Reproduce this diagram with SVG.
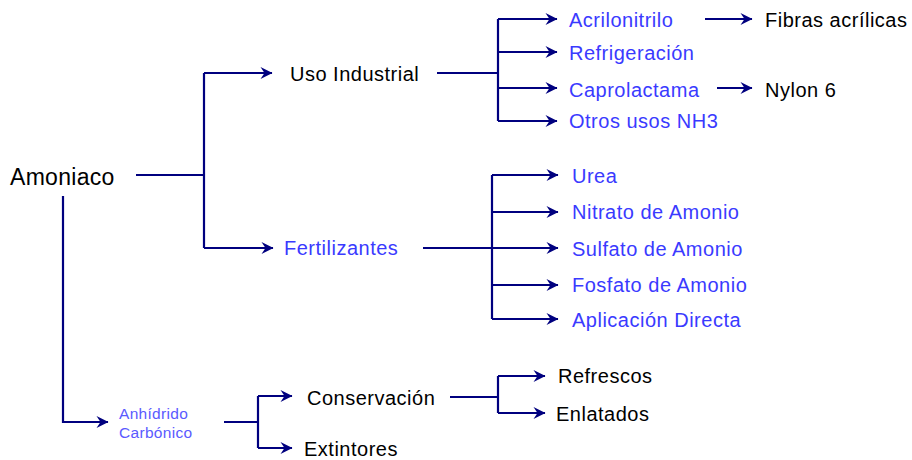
<svg xmlns="http://www.w3.org/2000/svg" width="912" height="460" viewBox="0 0 912 460">
<style>
.t{font-family:"Liberation Sans",Arial,sans-serif;font-size:20px;letter-spacing:0.5px}
.k{fill:#000}
.b{fill:#3a3aff}
.s{font-size:15.5px;letter-spacing:0.3px;fill:#5a5aff}
.big{font-size:23px;letter-spacing:0.3px}
.c{fill:none;stroke:#00007f;stroke-width:2.2}
.a{marker-end:url(#ah)}
</style>
<defs>
<marker id="ah" markerUnits="userSpaceOnUse" markerWidth="14" markerHeight="14" refX="12" refY="7" orient="auto" viewBox="0 0 14 14">
<path d="M0.5,1 L12.5,7 L0.5,13 L4.5,7 z" fill="#00007f"/>
</marker>
</defs>
<rect width="912" height="460" fill="#fff"/>
<g id="connectors">
<path class="c" d="M136,175 H204 M204,73 V248"/>
<path class="c a" d="M204,73 H272"/>
<path class="c a" d="M204,248 H273"/>
<path class="c a" d="M63,196 V422 H108"/>
<path class="c" d="M437,73 H498 M498,19 V121"/>
<path class="c a" d="M498,19 H557"/>
<path class="c a" d="M498,52 H557"/>
<path class="c a" d="M498,88 H557"/>
<path class="c a" d="M498,121 H557"/>
<path class="c a" d="M705,19 H752"/>
<path class="c a" d="M717,88 H752"/>
<path class="c" d="M423,248 H492 M492,175 V319"/>
<path class="c a" d="M492,175 H558"/>
<path class="c a" d="M492,212 H558"/>
<path class="c a" d="M492,248 H558"/>
<path class="c a" d="M492,285 H558"/>
<path class="c a" d="M492,319 H558"/>
<path class="c" d="M224,422 H258 M258,396 V448"/>
<path class="c a" d="M258,396 H292"/>
<path class="c a" d="M258,448 H292"/>
<path class="c" d="M450,397 H498 M498,376 V413"/>
<path class="c a" d="M498,376 H545"/>
<path class="c a" d="M498,413 H545"/>
</g>
<g id="amoniaco"><text class="t k big" x="10" y="185">Amoniaco</text></g>
<g id="uso-industrial"><text class="t k" x="290" y="81">Uso Industrial</text></g>
<g id="fertilizantes"><text class="t b" x="284" y="255">Fertilizantes</text></g>
<g id="anhidrido"><text class="t s" x="119" y="419">Anhídrido</text><text class="t s" x="119" y="438">Carbónico</text></g>
<g id="acrilonitrilo"><text class="t b" x="569" y="27">Acrilonitrilo</text></g>
<g id="refrigeracion"><text class="t b" x="569" y="60">Refrigeración</text></g>
<g id="caprolactama"><text class="t b" x="569" y="97">Caprolactama</text></g>
<g id="otros"><text class="t b" x="569" y="128">Otros usos NH3</text></g>
<g id="fibras"><text class="t k" x="765" y="27">Fibras acrílicas</text></g>
<g id="nylon"><text class="t k" x="765" y="97">Nylon 6</text></g>
<g id="urea"><text class="t b" x="572" y="183">Urea</text></g>
<g id="nitrato"><text class="t b" x="572" y="219">Nitrato de Amonio</text></g>
<g id="sulfato"><text class="t b" x="572" y="256">Sulfato de Amonio</text></g>
<g id="fosfato"><text class="t b" x="572" y="292">Fosfato de Amonio</text></g>
<g id="aplicacion"><text class="t b" x="572" y="327">Aplicación Directa</text></g>
<g id="conservacion"><text class="t k" x="307" y="405">Conservación</text></g>
<g id="extintores"><text class="t k" x="304" y="456">Extintores</text></g>
<g id="refrescos"><text class="t k" x="558" y="383">Refrescos</text></g>
<g id="enlatados"><text class="t k" x="556" y="421">Enlatados</text></g>
</svg>
